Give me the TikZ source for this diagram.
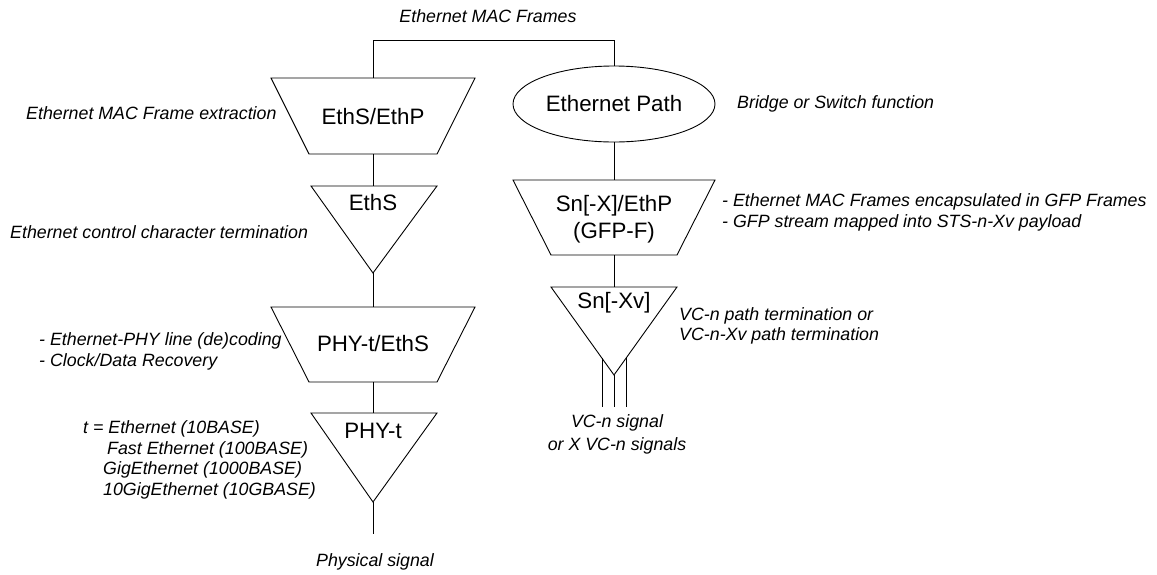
\documentclass[tikz,border=0pt]{standalone}
\usepackage{fontspec}
\setmainfont{Liberation Sans}
\usetikzlibrary{shapes.geometric}
\begin{document}
\begin{tikzpicture}[x=1pt,y=-1pt,
  shapeline/.style={draw=black,line width=0.9pt,line join=miter},
  conn/.style={draw=black,line width=0.9pt},
  boxtext/.style={inner sep=0pt,font=\fontsize{22.3}{27}\selectfont,align=center},
  lab/.style={inner sep=0pt,font=\fontsize{17.8}{20.7}\selectfont\itshape,align=left},
  labc/.style={inner sep=0pt,font=\fontsize{17.8}{22.5}\selectfont\itshape,align=center}]
\useasboundingbox (0,0) rectangle (1157,574);
% ---- left column shapes
\draw[shapeline] (271,78) -- (475,78) -- (437,154) -- (309,154) -- cycle;
\node[boxtext] (ethsp) at (373,117) {EthS/EthP};
\coordinate (ethspT) at (373,78);
\coordinate (ethspB) at (373,154);
\draw[shapeline] (311,186) -- (437,186) -- (373,273) -- cycle;
\node[boxtext] (eths) at (373,203) {EthS};
\coordinate (ethsT) at (373,186);
\coordinate (ethsB) at (373,273);
\draw[shapeline] (271,307) -- (475,307) -- (437,382) -- (309,382) -- cycle;
\node[boxtext] (phyeths) at (373,344) {PHY-t/EthS};
\coordinate (phyethsT) at (373,307);
\coordinate (phyethsB) at (373,382);
\draw[shapeline] (311,413) -- (437,413) -- (373,502) -- cycle;
\node[boxtext] (phyt) at (373,431) {PHY-t};
\coordinate (phytT) at (373,413);
\coordinate (phytB) at (373,502);
\coordinate (physend) at (373,534);
% ---- right column shapes
\node[shapeline,ellipse,minimum width=202,minimum height=76,inner sep=0pt,
  font=\fontsize{22.3}{27}\selectfont] (epath) at (614,104) {Ethernet Path};
\draw[shapeline] (513,180) -- (715,180) -- (677,255) -- (551,255) -- cycle;
\node[boxtext] (snx) at (614,219) {Sn[-X]/EthP\\(GFP-F)};
\coordinate (snxT) at (614,180);
\coordinate (snxB) at (614,255);
\draw[shapeline] (551,287) -- (677,287) -- (614,375) -- cycle;
\node[boxtext] (snxv) at (614,303) {Sn[-Xv]};
\coordinate (snxvT) at (614,287);
\coordinate (snxvB) at (614,375);
\coordinate (snxvL) at (602,358.2);
\coordinate (snxvR) at (626,358.2);
\coordinate (vcC) at (614,407);
\coordinate (vcL) at (602,407);
\coordinate (vcR) at (626,407);
% ---- connectors
\coordinate (topL) at (373,40);
\coordinate (topR) at (614,40);
\draw[conn] (ethspT) -- (topL) -- (topR) -- (epath.north);
\draw[conn] (ethspB) -- (ethsT);
\draw[conn] (ethsB) -- (phyethsT);
\draw[conn] (phyethsB) -- (phytT);
\draw[conn] (phytB) -- (physend);
\draw[conn] (epath.south) -- (snxT);
\draw[conn] (snxB) -- (snxvT);
\draw[conn] (snxvB) -- (vcC);
\draw[conn] (snxvL) -- (vcL);
\draw[conn] (snxvR) -- (vcR);
% ---- labels
\node[labc] (lframes) at (488,16) {Ethernet MAC Frames};
\node[lab,anchor=west] (lextract) at (26,113) {Ethernet MAC Frame extraction};
\node[lab,anchor=west] (lctrl) at (10,232) {Ethernet control character termination};
\node[lab,anchor=west] (lphy) at (39,351.5) {- Ethernet-PHY line (de)coding\\- Clock/Data Recovery};
\node[lab,anchor=west] (lt1) at (83,429) {t = Ethernet (10BASE)};
\node[lab,anchor=west] (lt2) at (107,450) {Fast Ethernet (100BASE)};
\node[lab,anchor=west] (lt3) at (103,470) {GigEthernet (1000BASE)};
\node[lab,anchor=west] (lt4) at (103,491) {10GigEthernet (10GBASE)};
\node[labc] (lphys) at (375,562) {Physical signal};
\node[lab,anchor=west] (lbridge) at (737,104) {Bridge or Switch function};
\node[lab,anchor=west] (lgfp) at (722,212.5) {- Ethernet MAC Frames encapsulated in GFP Frames\\- GFP stream mapped into STS-n-Xv payload};
\node[lab,anchor=west] (lvcpath) at (679,326) {VC-n path termination or\\VC-n-Xv path termination};
\node[labc] (lvcsig) at (617,434.5) {VC-n signal\\or X VC-n signals};
\end{tikzpicture}
\end{document}
